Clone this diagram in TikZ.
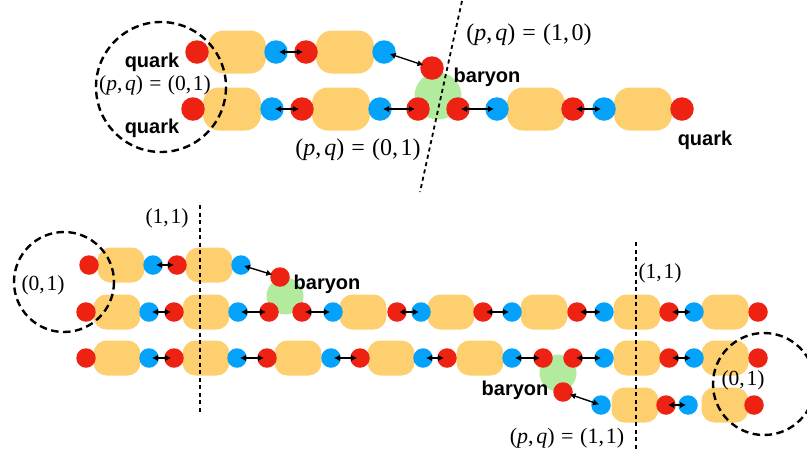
\documentclass[tikz,border=0pt]{standalone}
\usepackage{fontspec}
\setmainfont{Liberation Serif}
\setsansfont{Liberation Sans}
\usetikzlibrary{arrows.meta}
\definecolor{qred}{RGB}{237,34,18}
\definecolor{qblue}{RGB}{4,162,250}
\definecolor{qorange}{RGB}{253,207,110}
\definecolor{qgreen}{RGB}{178,234,158}
\newcommand{\pqtxt}[1]{(\textit{p},\kern.12em\textit{q})\kern.3em=\kern.3em(#1)}
\tikzset{
  redT/.style={circle,fill=qred,inner sep=0pt,minimum size=23.5pt},
  blueT/.style={circle,fill=qblue,inner sep=0pt,minimum size=23.5pt},
  boxT/.style={rectangle,rounded corners=16pt,fill=qorange,inner sep=0pt,minimum width=58pt,minimum height=43pt},
  redB/.style={circle,fill=qred,inner sep=0pt,minimum size=19.5pt},
  blueB/.style={circle,fill=qblue,inner sep=0pt,minimum size=19.5pt},
  boxB/.style={rectangle,rounded corners=13pt,fill=qorange,inner sep=0pt,minimum width=47pt,minimum height=35pt},
  glueT/.style={circle,fill=qgreen,inner sep=0pt,minimum size=47pt},
  glueB/.style={circle,fill=qgreen,inner sep=0pt,minimum size=37pt},
  dbl/.style={{Latex[length=6pt,width=6.5pt]}-{Latex[length=6pt,width=6.5pt]},line width=1.4pt,shorten <=3pt,shorten >=3pt},
  cutline/.style={line width=1.8pt,dash pattern=on 4pt off 3.5pt},
  ring/.style={line width=2.4pt,dash pattern=on 7.5pt off 4.5pt},
  lbl/.style={font=\sffamily\bfseries\fontsize{20}{24}\selectfont,inner sep=0pt},
  pqT/.style={font=\fontsize{24}{28}\selectfont,inner sep=0pt},
  pqS/.style={font=\fontsize{21.5}{25}\selectfont,inner sep=0pt},
  pqB/.style={font=\fontsize{22}{26}\selectfont,inner sep=0pt}
}
\begin{document}
\begin{tikzpicture}[x=1pt,y=-1pt]
\useasboundingbox (0,0) rectangle (807,459);
\clip (0,0) rectangle (807,459);
% ---------------- top panel: strings (boxes) ----------------
\node[boxT] (a2) at (237,52) {};
\node[boxT] (a5) at (345,52) {};
\node[boxT] (b2) at (232,109) {};
\node[boxT] (b5) at (341,109) {};
\node[boxT] (b8) at (536,109) {};
\node[boxT] (b11) at (643,109) {};
\node[glueT] (g1) at (438,96) {};
% top panel: quarks
\node[redT] (a1) at (197,52) {};
\node[blueT] (a3) at (276,52) {};
\node[redT] (a4) at (306,52) {};
\node[blueT] (a6) at (384,52) {};
\node[redT] (bt) at (432,68) {};
\node[redT] (b1) at (193,109) {};
\node[blueT] (b3) at (272,109) {};
\node[redT] (b4) at (302,109) {};
\node[blueT] (b6) at (380,109) {};
\node[redT] (bl) at (418,109) {};
\node[redT] (br) at (458,109) {};
\node[blueT] (b7) at (497,109) {};
\node[redT] (b9) at (573,109) {};
\node[blueT] (b10) at (604,109) {};
\node[redT] (b12) at (682,109) {};
% top panel: arrows
\draw[dbl] (a3.center) -- (a4.center);
\draw[dbl,shorten <=6pt,shorten >=9pt] (a6.center) -- (bt.center);
\draw[dbl] (b3.center) -- (b4.center);
\draw[dbl] (b6.center) -- (bl.center);
\draw[dbl] (br.center) -- (b7.center);
\draw[dbl] (b9.center) -- (b10.center);
% top panel: dashed
\draw[ring] (161,87) circle[radius=65];
\coordinate (t1) at (462,1);
\coordinate (t2) at (420,192);
\draw[cutline] (t1) -- (t2);
% top panel: labels
\node[lbl] (q1) at (152,62) {quark};
\node[pqS] (p1) at (155,85) {\pqtxt{0,\kern.08em1}};
\node[lbl] (q2) at (152,128) {quark};
\node[lbl] (bn1) at (487,77) {baryon};
\node[pqT] (p2) at (529,35) {\pqtxt{1,\kern.1em0}};
\node[pqT] (p3) at (358,150) {\pqtxt{0,\kern.1em1}};
\node[lbl] (q3) at (705,140) {quark};
% ---------------- bottom panel: strings ----------------
\node[boxB] (c2) at (121,265) {};
\node[boxB] (c5) at (209,265) {};
\node[boxB] (d2) at (117,312) {};
\node[boxB] (d5) at (206,312) {};
\node[boxB] (d8) at (363,312) {};
\node[boxB] (d11) at (451,312) {};
\node[boxB] (d14) at (544,312) {};
\node[boxB] (d17) at (637,312) {};
\node[boxB] (d20) at (725,312) {};
\node[boxB] (e2) at (117,358) {};
\node[boxB] (e5) at (206,358) {};
\node[boxB] (e8) at (298,358) {};
\node[boxB] (e11) at (391,358) {};
\node[boxB] (e14) at (480,358) {};
\node[boxB] (e17) at (637,358) {};
\node[boxB] (e20) at (725,358) {};
\node[boxB] (f2) at (635,405) {};
\node[boxB] (f5) at (725,405) {};
\node[glueB] (g2) at (285,296) {};
\node[glueB] (g3) at (558,373) {};
% bottom panel: quarks
\node[redB] (c1) at (89,265) {};
\node[blueB] (c3) at (153,265) {};
\node[redB] (c4) at (177,265) {};
\node[blueB] (c6) at (241,265) {};
\node[redB] (cb) at (280,277) {};
\node[redB] (d1) at (86,312) {};
\node[blueB] (d3) at (149,312) {};
\node[redB] (d4) at (174,312) {};
\node[blueB] (d6) at (238,312) {};
\node[redB] (dl) at (269,312) {};
\node[redB] (dr) at (302,312) {};
\node[blueB] (d7) at (333,312) {};
\node[redB] (d9) at (397,312) {};
\node[blueB] (d10) at (421,312) {};
\node[redB] (d12) at (483,312) {};
\node[blueB] (d13) at (512,312) {};
\node[redB] (d15) at (577,312) {};
\node[blueB] (d16) at (604,312) {};
\node[redB] (d18) at (669,312) {};
\node[blueB] (d19) at (694,312) {};
\node[redB] (d21) at (758,312) {};
\node[redB] (e1) at (86,358) {};
\node[blueB] (e3) at (149,358) {};
\node[redB] (e4) at (174,358) {};
\node[blueB] (e6) at (237,358) {};
\node[redB] (e7) at (267,358) {};
\node[blueB] (e9) at (331,358) {};
\node[redB] (e10) at (360,358) {};
\node[blueB] (e12) at (423,358) {};
\node[redB] (e13) at (447,358) {};
\node[blueB] (e15) at (512,358) {};
\node[redB] (el) at (543,358) {};
\node[redB] (er) at (573,358) {};
\node[blueB] (e16) at (604,358) {};
\node[redB] (e18) at (669,358) {};
\node[blueB] (e19) at (694,358) {};
\node[redB] (e21) at (758,358) {};
\node[redB] (fb) at (563,392) {};
\node[blueB] (f1) at (601,405) {};
\node[redB] (f3) at (666,405) {};
\node[blueB] (f4) at (688,405) {};
\node[redB] (f6) at (754,405) {};
% bottom panel: arrows
\draw[dbl] (c3.center) -- (c4.center);
\draw[dbl,shorten <=3pt,shorten >=8pt] (c6.center) -- (cb.center);
\draw[dbl] (d3.center) -- (d4.center);
\draw[dbl] (d6.center) -- (dl.center);
\draw[dbl] (dr.center) -- (d7.center);
\draw[dbl,shorten <=2pt,shorten >=2pt] (d9.center) -- (d10.center);
\draw[dbl] (d12.center) -- (d13.center);
\draw[dbl] (d15.center) -- (d16.center);
\draw[dbl] (d18.center) -- (d19.center);
\draw[dbl] (e3.center) -- (e4.center);
\draw[dbl] (e6.center) -- (e7.center);
\draw[dbl] (e9.center) -- (e10.center);
\draw[dbl] (e12.center) -- (e13.center);
\draw[dbl] (e15.center) -- (el.center);
\draw[dbl] (er.center) -- (e16.center);
\draw[dbl] (e18.center) -- (e19.center);
\draw[dbl,shorten <=7pt,shorten >=2pt] (fb.center) -- (f1.center);
\draw[dbl,shorten <=2pt,shorten >=2pt] (f3.center) -- (f4.center);
% bottom panel: dashed
\coordinate (v1) at (200,205);
\coordinate (v2) at (200,412);
\draw[cutline] (v1) -- (v2);
\coordinate (w1) at (636,242);
\coordinate (w2) at (636,450);
\draw[cutline] (w1) -- (w2);
\draw[ring] (64,282) circle[radius=50];
\draw[ring] (764,384) circle[radius=51];
% bottom panel: labels
\node[pqS] (l1) at (167,218) {(1,\kern.08em1)};
\node[pqS] (l2) at (43,285) {(0,\kern.08em1)};
\node[lbl] (bn2) at (327,284) {baryon};
\node[pqS] (l3) at (660,273) {(1,\kern.08em1)};
\node[pqS] (l4) at (743,380) {(0,\kern.08em1)};
\node[lbl] (bn3) at (515,390) {baryon};
\node[pqB] (l5) at (567,438) {\pqtxt{1,\kern.08em1}};
\end{tikzpicture}
\end{document}
